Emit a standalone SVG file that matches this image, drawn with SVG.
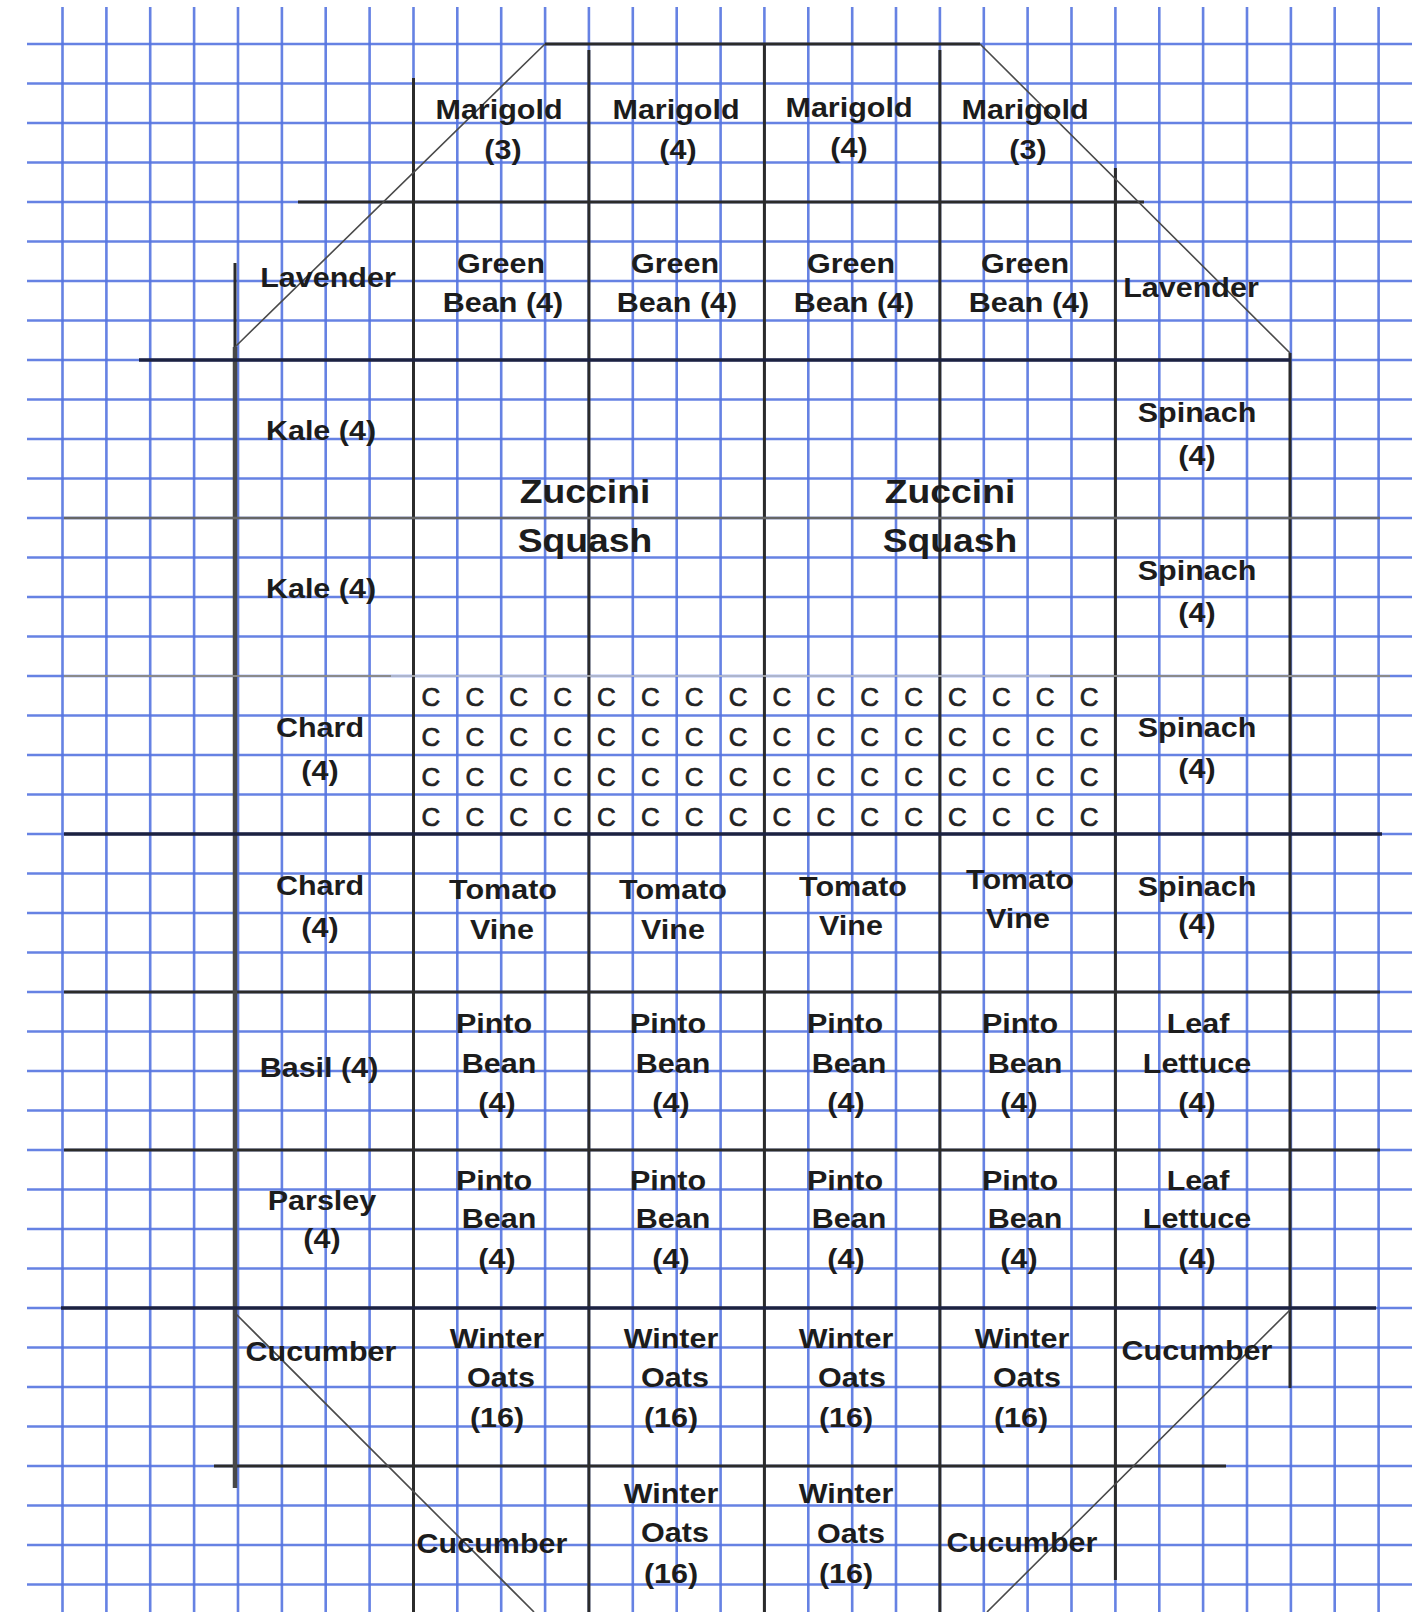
<svg xmlns="http://www.w3.org/2000/svg" width="1424" height="1612" viewBox="0 0 1424 1612">
<style>
.g{stroke:#5574e0;stroke-width:2.6;fill:none;stroke-opacity:0.9}
.k{stroke:#2b2b2b;stroke-width:3;fill:none}
.kt{stroke:#1c2240;stroke-width:3.6;fill:none}
.kg{stroke:#666666;stroke-width:2.5;fill:none}
.kl{stroke:#8a8a8a;stroke-width:2;fill:none}
.kf{stroke:#c6c6c6;stroke-width:1.5;fill:none}
.d{stroke:#4a4a4a;stroke-width:1.6;fill:none}
.t{font-family:"Liberation Sans",Arial,sans-serif;font-weight:bold;font-size:27px;fill:#1c1c1c;text-anchor:middle}
.z{font-size:33px}
.c{font-family:"Liberation Sans",Arial,sans-serif;font-size:26px;fill:#222;stroke:#222;stroke-width:0.7;text-anchor:middle}
</style>
<rect width="1424" height="1612" fill="#ffffff"/>
<g id="grid" class="g">
<path d="M62.5 7V1612M106.4 7V1612M150.2 7V1612M194.1 7V1612M238 7V1612M281.9 7V1612M325.7 7V1612M369.6 7V1612M413.5 7V1612M457.3 7V1612M501.2 7V1612M545.1 7V1612M588.9 7V1612M632.8 7V1612M676.7 7V1612M720.6 7V1612M764.4 7V1612M808.3 7V1612M852.2 7V1612M896 7V1612M939.9 7V1612M983.8 7V1612M1027.6 7V1612M1071.5 7V1612M1115.4 7V1612M1159.3 7V1612M1203.1 7V1612M1247 7V1612M1290.9 7V1612M1334.7 7V1612M1378.6 7V1612"/>
<path d="M27 44H1412M27 83.5H1412M27 123H1412M27 162.5H1412M27 202H1412M27 241.5H1412M27 281H1412M27 320.5H1412M27 360H1412M27 399.5H1412M27 439H1412M27 478.5H1412M27 518H1412M27 557.5H1412M27 597H1412M27 636.5H1412M27 676H1412M27 715.5H1412M27 755H1412M27 794.5H1412M27 834H1412M27 873.5H1412M27 913H1412M27 952.5H1412M27 992H1412M27 1031.5H1412M27 1071H1412M27 1110.5H1412M27 1150H1412M27 1189.5H1412M27 1229H1412M27 1268.5H1412M27 1308H1412M27 1347.5H1412M27 1387H1412M27 1426.5H1412M27 1466H1412M27 1505.5H1412M27 1545H1412M27 1584.5H1412"/>
</g>
<g id="connectors">
<path class="k" d="M545 44H980M298 202H1144M413.5 78V1612M588.9 50V1612M764.4 44V1612M939.9 50V1612M1115.4 168V1580M1290 353V1388M64 992H1380M64 1150H1380M214 1466H1226"/>
<path class="k" d="M235 263V347"/>
<path class="k" style="stroke:#484848;stroke-width:4.5" d="M235 347V1488"/>
<path class="kt" d="M139 360H1290M64 834H1382M61 1308H1376"/>
<path class="kg" d="M64 518H1380"/>
<path class="kl" d="M64 676H391M1050 676H1390"/>
<path class="kf" d="M391 676H1050"/>
<path class="d" d="M545 44L235 347M980 44L1290 353M235 1313L534 1612M1290 1310L987 1612"/>
</g>
<g id="marigold-1"><text class="t" transform="translate(499 119) scale(1.13 1)">Marigold</text><text class="t" transform="translate(503 159) scale(1.13 1)">(3)</text></g>
<g id="marigold-2"><text class="t" transform="translate(676 119) scale(1.13 1)">Marigold</text><text class="t" transform="translate(678 159) scale(1.13 1)">(4)</text></g>
<g id="marigold-3"><text class="t" transform="translate(849 117) scale(1.13 1)">Marigold</text><text class="t" transform="translate(849 157) scale(1.13 1)">(4)</text></g>
<g id="marigold-4"><text class="t" transform="translate(1025 119) scale(1.13 1)">Marigold</text><text class="t" transform="translate(1028 159) scale(1.13 1)">(3)</text></g>
<g id="lavender-left"><text class="t" transform="translate(328 287) scale(1.13 1)">Lavender</text></g>
<g id="green-bean-1"><text class="t" transform="translate(501 273) scale(1.13 1)">Green</text><text class="t" transform="translate(503 312) scale(1.13 1)">Bean (4)</text></g>
<g id="green-bean-2"><text class="t" transform="translate(675 273) scale(1.13 1)">Green</text><text class="t" transform="translate(677 312) scale(1.13 1)">Bean (4)</text></g>
<g id="green-bean-3"><text class="t" transform="translate(851 273) scale(1.13 1)">Green</text><text class="t" transform="translate(854 312) scale(1.13 1)">Bean (4)</text></g>
<g id="green-bean-4"><text class="t" transform="translate(1025 273) scale(1.13 1)">Green</text><text class="t" transform="translate(1029 312) scale(1.13 1)">Bean (4)</text></g>
<g id="lavender-right"><text class="t" transform="translate(1191 297) scale(1.13 1)">Lavender</text></g>
<g id="kale-1"><text class="t" transform="translate(321 440) scale(1.13 1)">Kale (4)</text></g>
<g id="kale-2"><text class="t" transform="translate(321 598) scale(1.13 1)">Kale (4)</text></g>
<g id="zucchini-1"><text class="t z" transform="translate(585 503) scale(1.13 1)">Zuccini</text><text class="t z" transform="translate(585 552) scale(1.13 1)">Squash</text></g>
<g id="zucchini-2"><text class="t z" transform="translate(950 503) scale(1.13 1)">Zuccini</text><text class="t z" transform="translate(950 552) scale(1.13 1)">Squash</text></g>
<g id="spinach-1"><text class="t" transform="translate(1197 422) scale(1.13 1)">Spinach</text><text class="t" transform="translate(1197 465) scale(1.13 1)">(4)</text></g>
<g id="spinach-2"><text class="t" transform="translate(1197 580) scale(1.13 1)">Spinach</text><text class="t" transform="translate(1197 622) scale(1.13 1)">(4)</text></g>
<g id="spinach-3"><text class="t" transform="translate(1197 737) scale(1.13 1)">Spinach</text><text class="t" transform="translate(1197 778) scale(1.13 1)">(4)</text></g>
<g id="spinach-4"><text class="t" transform="translate(1197 896) scale(1.13 1)">Spinach</text><text class="t" transform="translate(1197 933) scale(1.13 1)">(4)</text></g>
<g id="chard-1"><text class="t" transform="translate(320 737) scale(1.13 1)">Chard</text><text class="t" transform="translate(320 780) scale(1.13 1)">(4)</text></g>
<g id="chard-2"><text class="t" transform="translate(320 895) scale(1.13 1)">Chard</text><text class="t" transform="translate(320 937) scale(1.13 1)">(4)</text></g>
<g id="carrots">
<text class="c" x="431" y="706">C</text><text class="c" x="474.9" y="706">C</text><text class="c" x="518.7" y="706">C</text><text class="c" x="562.6" y="706">C</text><text class="c" x="606.5" y="706">C</text><text class="c" x="650.4" y="706">C</text><text class="c" x="694.2" y="706">C</text><text class="c" x="738.1" y="706">C</text><text class="c" x="782" y="706">C</text><text class="c" x="825.8" y="706">C</text><text class="c" x="869.7" y="706">C</text><text class="c" x="913.6" y="706">C</text><text class="c" x="957.4" y="706">C</text><text class="c" x="1001.3" y="706">C</text><text class="c" x="1045.2" y="706">C</text><text class="c" x="1089.1" y="706">C</text>
<text class="c" x="431" y="746">C</text><text class="c" x="474.9" y="746">C</text><text class="c" x="518.7" y="746">C</text><text class="c" x="562.6" y="746">C</text><text class="c" x="606.5" y="746">C</text><text class="c" x="650.4" y="746">C</text><text class="c" x="694.2" y="746">C</text><text class="c" x="738.1" y="746">C</text><text class="c" x="782" y="746">C</text><text class="c" x="825.8" y="746">C</text><text class="c" x="869.7" y="746">C</text><text class="c" x="913.6" y="746">C</text><text class="c" x="957.4" y="746">C</text><text class="c" x="1001.3" y="746">C</text><text class="c" x="1045.2" y="746">C</text><text class="c" x="1089.1" y="746">C</text>
<text class="c" x="431" y="786">C</text><text class="c" x="474.9" y="786">C</text><text class="c" x="518.7" y="786">C</text><text class="c" x="562.6" y="786">C</text><text class="c" x="606.5" y="786">C</text><text class="c" x="650.4" y="786">C</text><text class="c" x="694.2" y="786">C</text><text class="c" x="738.1" y="786">C</text><text class="c" x="782" y="786">C</text><text class="c" x="825.8" y="786">C</text><text class="c" x="869.7" y="786">C</text><text class="c" x="913.6" y="786">C</text><text class="c" x="957.4" y="786">C</text><text class="c" x="1001.3" y="786">C</text><text class="c" x="1045.2" y="786">C</text><text class="c" x="1089.1" y="786">C</text>
<text class="c" x="431" y="826">C</text><text class="c" x="474.9" y="826">C</text><text class="c" x="518.7" y="826">C</text><text class="c" x="562.6" y="826">C</text><text class="c" x="606.5" y="826">C</text><text class="c" x="650.4" y="826">C</text><text class="c" x="694.2" y="826">C</text><text class="c" x="738.1" y="826">C</text><text class="c" x="782" y="826">C</text><text class="c" x="825.8" y="826">C</text><text class="c" x="869.7" y="826">C</text><text class="c" x="913.6" y="826">C</text><text class="c" x="957.4" y="826">C</text><text class="c" x="1001.3" y="826">C</text><text class="c" x="1045.2" y="826">C</text><text class="c" x="1089.1" y="826">C</text>
</g>
<g id="tomato-1"><text class="t" transform="translate(503 899) scale(1.13 1)">Tomato</text><text class="t" transform="translate(502 939) scale(1.13 1)">Vine</text></g>
<g id="tomato-2"><text class="t" transform="translate(673 899) scale(1.13 1)">Tomato</text><text class="t" transform="translate(673 939) scale(1.13 1)">Vine</text></g>
<g id="tomato-3"><text class="t" transform="translate(853 896) scale(1.13 1)">Tomato</text><text class="t" transform="translate(851 935) scale(1.13 1)">Vine</text></g>
<g id="tomato-4"><text class="t" transform="translate(1020 889) scale(1.13 1)">Tomato</text><text class="t" transform="translate(1018 928) scale(1.13 1)">Vine</text></g>
<g id="basil"><text class="t" transform="translate(319 1077) scale(1.13 1)">Basil (4)</text></g>
<g id="pinto-1"><text class="t" transform="translate(494 1033) scale(1.13 1)">Pinto</text><text class="t" transform="translate(499 1073) scale(1.13 1)">Bean</text><text class="t" transform="translate(497 1112) scale(1.13 1)">(4)</text></g>
<g id="pinto-2"><text class="t" transform="translate(668 1033) scale(1.13 1)">Pinto</text><text class="t" transform="translate(673 1073) scale(1.13 1)">Bean</text><text class="t" transform="translate(671 1112) scale(1.13 1)">(4)</text></g>
<g id="pinto-3"><text class="t" transform="translate(845 1033) scale(1.13 1)">Pinto</text><text class="t" transform="translate(849 1073) scale(1.13 1)">Bean</text><text class="t" transform="translate(846 1112) scale(1.13 1)">(4)</text></g>
<g id="pinto-4"><text class="t" transform="translate(1020 1033) scale(1.13 1)">Pinto</text><text class="t" transform="translate(1025 1073) scale(1.13 1)">Bean</text><text class="t" transform="translate(1019 1112) scale(1.13 1)">(4)</text></g>
<g id="leaf-lettuce-1"><text class="t" transform="translate(1198 1033) scale(1.13 1)">Leaf</text><text class="t" transform="translate(1197 1073) scale(1.13 1)">Lettuce</text><text class="t" transform="translate(1197 1112) scale(1.13 1)">(4)</text></g>
<g id="parsley"><text class="t" transform="translate(322 1210) scale(1.13 1)">Parsley</text><text class="t" transform="translate(322 1248) scale(1.13 1)">(4)</text></g>
<g id="pinto-5"><text class="t" transform="translate(494 1190) scale(1.13 1)">Pinto</text><text class="t" transform="translate(499 1228) scale(1.13 1)">Bean</text><text class="t" transform="translate(497 1268) scale(1.13 1)">(4)</text></g>
<g id="pinto-6"><text class="t" transform="translate(668 1190) scale(1.13 1)">Pinto</text><text class="t" transform="translate(673 1228) scale(1.13 1)">Bean</text><text class="t" transform="translate(671 1268) scale(1.13 1)">(4)</text></g>
<g id="pinto-7"><text class="t" transform="translate(845 1190) scale(1.13 1)">Pinto</text><text class="t" transform="translate(849 1228) scale(1.13 1)">Bean</text><text class="t" transform="translate(846 1268) scale(1.13 1)">(4)</text></g>
<g id="pinto-8"><text class="t" transform="translate(1020 1190) scale(1.13 1)">Pinto</text><text class="t" transform="translate(1025 1228) scale(1.13 1)">Bean</text><text class="t" transform="translate(1019 1268) scale(1.13 1)">(4)</text></g>
<g id="leaf-lettuce-2"><text class="t" transform="translate(1198 1190) scale(1.13 1)">Leaf</text><text class="t" transform="translate(1197 1228) scale(1.13 1)">Lettuce</text><text class="t" transform="translate(1197 1268) scale(1.13 1)">(4)</text></g>
<g id="cucumber-1"><text class="t" transform="translate(321 1361) scale(1.13 1)">Cucumber</text></g>
<g id="oats-1"><text class="t" transform="translate(497 1348) scale(1.13 1)">Winter</text><text class="t" transform="translate(501 1387) scale(1.13 1)">Oats</text><text class="t" transform="translate(497 1427) scale(1.13 1)">(16)</text></g>
<g id="oats-2"><text class="t" transform="translate(671 1348) scale(1.13 1)">Winter</text><text class="t" transform="translate(675 1387) scale(1.13 1)">Oats</text><text class="t" transform="translate(671 1427) scale(1.13 1)">(16)</text></g>
<g id="oats-3"><text class="t" transform="translate(846 1348) scale(1.13 1)">Winter</text><text class="t" transform="translate(852 1387) scale(1.13 1)">Oats</text><text class="t" transform="translate(846 1427) scale(1.13 1)">(16)</text></g>
<g id="oats-4"><text class="t" transform="translate(1022 1348) scale(1.13 1)">Winter</text><text class="t" transform="translate(1027 1387) scale(1.13 1)">Oats</text><text class="t" transform="translate(1021 1427) scale(1.13 1)">(16)</text></g>
<g id="cucumber-2"><text class="t" transform="translate(1197 1360) scale(1.13 1)">Cucumber</text></g>
<g id="cucumber-3"><text class="t" transform="translate(492 1553) scale(1.13 1)">Cucumber</text></g>
<g id="oats-5"><text class="t" transform="translate(671 1503) scale(1.13 1)">Winter</text><text class="t" transform="translate(675 1542) scale(1.13 1)">Oats</text><text class="t" transform="translate(671 1583) scale(1.13 1)">(16)</text></g>
<g id="oats-6"><text class="t" transform="translate(846 1503) scale(1.13 1)">Winter</text><text class="t" transform="translate(851 1543) scale(1.13 1)">Oats</text><text class="t" transform="translate(846 1583) scale(1.13 1)">(16)</text></g>
<g id="cucumber-4"><text class="t" transform="translate(1022 1552) scale(1.13 1)">Cucumber</text></g>
</svg>
